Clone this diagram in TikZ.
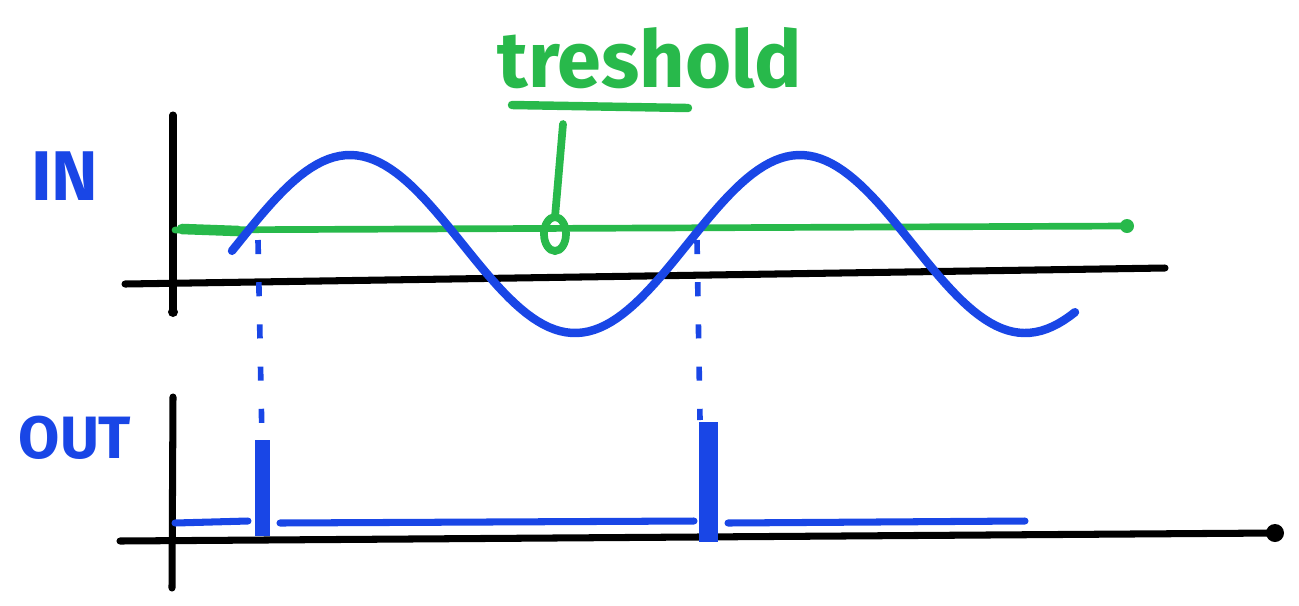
\documentclass[tikz,border=0pt]{standalone}
\usepackage{fontspec}
\setmainfont{Fira Sans}
\usepackage{tikz}
\usetikzlibrary{calc,positioning}

\begin{document}
\begin{tikzpicture}[x=0.01cm,y=-0.01cm,
  axis/.style={line width=2pt, line cap=round},
  wave/.style={sigblue, line width=2.4pt, line cap=round},
  thresh/.style={trgreen, line width=1.9pt, line cap=round},
  guide/.style={sigblue, line width=1.6pt, dash pattern=on 4pt off 8pt},
  pulse/.style={sigblue, line cap=round},
  tag/.style={font=\bfseries\fontsize{20}{22}\selectfont, inner sep=0pt}]
% Comparator sketch: a sine input against a threshold level, and the
% short output pulses fired where the input rises through it.
\definecolor{sigblue}{RGB}{25, 70, 230}
\definecolor{trgreen}{RGB}{40, 185, 75}
\useasboundingbox (0,0) rectangle (1299,605);
% axes
\coordinate (inTop) at (173,115);
\coordinate (inBot) at (173,312);
\coordinate (inL) at (125,284);
\coordinate (inR) at (1165,268);
\coordinate (outTop) at (173,397);
\coordinate (outBot) at (172,588);
\coordinate (outL) at (120,541);
\coordinate (outR) at (1275,533);
\draw[axis] (inTop) -- (inBot);
\draw[axis] (inL) -- (inR);
\draw[axis] (outTop) -- (outBot);
\draw[axis] (outL) -- (outR);
\fill (inBot) circle (5);
\fill (outR) circle (9);
% threshold level and its callout
\coordinate (thA) at (175,230);
\coordinate (thB) at (1127,226);
\draw[thresh] (thA) -- (thB);
\draw[trgreen, line width=3pt, line cap=round] (182,229) -- (238,231);
\fill[trgreen] (thB) circle (7);
\node[tag, trgreen, font=\bfseries\fontsize{22.5}{26}\selectfont] (thLabel) at (650,58) {treshold};
\draw[thresh, line width=2.4pt] (512,105) -- (688,108);
\coordinate (ring) at (555,234);
\draw[thresh, line width=2.2pt] (563,124) -- ($(ring)+(0,-17)$);
\draw[thresh, line width=2.2pt] (ring) ellipse (11 and 17);
% input sine
\draw[wave] plot[domain=232:1075, samples=150]
  (\x, {244-89*sin(0.8*(\x-237.5))});
% labels
\node[tag, sigblue] (inLabel) at (65,176) {IN};
\node[tag, sigblue, font=\bfseries\fontsize{17}{20}\selectfont] (outLabel) at (75,438) {OUT};
% dotted guides from the rising crossings down to the output
\draw[guide] (258,240) -- (262,440);
\draw[guide] (697,240) -- (700,420);
% output: baseline with two pulses
\foreach \a/\b in {175/248, 280/694, 728/1025} {
  \draw[sigblue, line width=2pt, line cap=round] (\a,523) -- (\b,521);
}
\fill[pulse] (255,440) rectangle (270,536);
\fill[pulse] (699,422) rectangle (718,542);
\end{tikzpicture}
\end{document}
